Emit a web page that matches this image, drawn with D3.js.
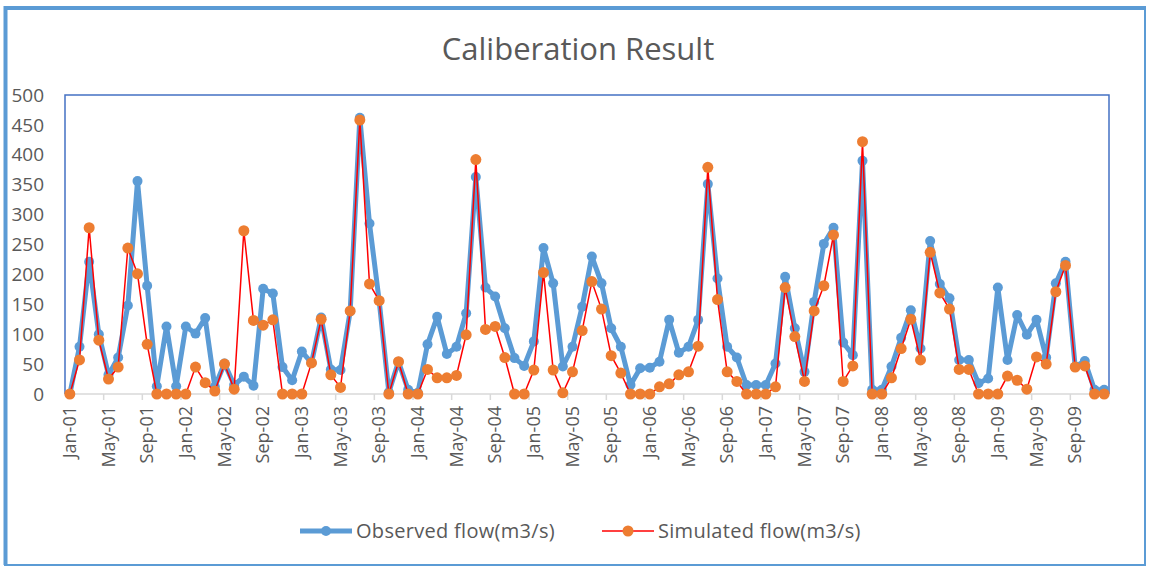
<!DOCTYPE html>
<html>
<head>
<meta charset="utf-8">
<script src="https://cdn.jsdelivr.net/npm/d3@7"></script>
<style>
  body { margin: 0; background: #fff; }
  text { font-family: "Open Sans", "Noto Sans", sans-serif; fill: #595959; }
</style>
</head>
<body>
<div id="chart"></div>
<script>
var width = 1150;
var height = 570;

// monthly values Jan-01 .. Dec-09
var observed = [
  0, 79, 221, 100, 32, 61, 148, 356, 181, 13, 113, 13,
  113, 101, 127, 12, 51, 15, 29, 14, 176, 168, 45, 23,
  71, 52, 128, 41, 40, 138, 462, 285, 156, 3, 54, 7,
  2, 83, 129, 67, 79, 135, 363, 178, 163, 110, 60, 47,
  88, 244, 185, 46, 79, 146, 230, 185, 110, 79, 15, 43,
  44, 54, 124, 69, 79, 124, 351, 193, 79, 61, 15, 15,
  15, 51, 196, 110, 37, 154, 251, 278, 86, 65, 390, 7,
  7, 46, 94, 140, 76, 256, 184, 160, 57, 57, 18, 26,
  178, 57, 132, 99, 124, 61, 185, 221, 46, 55, 7, 7
];
var simulated = [
  0, 57, 278, 90, 25, 45, 244, 201, 83, 0, 0, 0,
  0, 45, 19, 5, 50, 8, 273, 123, 115, 124, 0, 0,
  0, 52, 125, 32, 11, 139, 458, 184, 156, 0, 54, 0,
  0, 41, 27, 27, 31, 99, 392, 108, 113, 61, 0, 0,
  40, 203, 40, 2, 37, 106, 188, 142, 64, 35, 0, 0,
  0, 12, 17, 32, 37, 80, 379, 158, 37, 21, 0, 0,
  0, 12, 178, 96, 21, 139, 181, 266, 21, 47, 422, 0,
  0, 27, 76, 125, 57, 237, 169, 142, 41, 41, 0, 0,
  0, 30, 23, 8, 62, 50, 171, 215, 45, 47, 0, 0
];
var tickLabels = ["Jan-01", "May-01", "Sep-01", "Jan-02", "May-02", "Sep-02", "Jan-03", "May-03", "Sep-03",
  "Jan-04", "May-04", "Sep-04", "Jan-05", "May-05", "Sep-05", "Jan-06", "May-06", "Sep-06",
  "Jan-07", "May-07", "Sep-07", "Jan-08", "May-08", "Sep-08", "Jan-09", "May-09", "Sep-09"];
var yTicks = [0, 50, 100, 150, 200, 250, 300, 350, 400, 450, 500];
var seriesNames = ["Observed flow(m3/s)", "Simulated flow(m3/s)"];

var fmt = d3.utcFormat("%b-%y");
var months = d3.utcMonth.range(new Date(Date.UTC(2001, 0, 1)), new Date(Date.UTC(2010, 0, 1))).map(fmt);

var plot = { left: 65, right: 1109, top: 95, bottom: 394 };

var svg = d3.select('#chart')
    .append('svg')
    .attr('width', width)
    .attr('height', height);

// outer frame
svg.append('rect')
    .attr('x', 5).attr('y', 8)
    .attr('width', 1140).attr('height', 557)
    .attr('fill', 'none')
    .attr('stroke', '#5B9BD5')
    .attr('stroke-width', 2);
svg.append('path')
    .attr('d', 'M5.5,565 V8 H1146')
    .attr('fill', 'none')
    .attr('stroke', '#5B9BD5')
    .attr('stroke-width', 4);

svg.append('text')
    .attr('x', 578)
    .attr('y', 60)
    .attr('text-anchor', 'middle')
    .style('font-size', '31px')
    .text('Caliberation Result');

var x = d3.scaleBand()
    .domain(months)
    .range([plot.left, plot.right])
    .padding(0);

var y = d3.scaleLinear()
    .domain([0, 500])
    .range([plot.bottom, plot.top]);

function cx(d, i) { return x(months[i]) + x.bandwidth() / 2; }

// y labels
svg.append('g')
    .selectAll('text')
    .data(yTicks)
    .enter()
    .append('text')
    .attr('x', 44)
    .attr('y', function (d) { return y(d); })
    .attr('dy', '0.35em')
    .attr('text-anchor', 'end')
    .style('font-size', '19px')
    .text(function (d) { return d; });

// plot border (left, top, right)
svg.append('path')
    .attr('d', 'M' + plot.left + ',' + plot.bottom + ' V' + plot.top + ' H' + plot.right + ' V' + plot.bottom)
    .attr('fill', 'none')
    .attr('stroke', '#4472C4')
    .attr('stroke-width', 1.5);

// x axis line + tick marks
svg.append('line')
    .attr('x1', plot.left).attr('x2', plot.right)
    .attr('y1', plot.bottom).attr('y2', plot.bottom)
    .attr('stroke', '#D9D9D9')
    .attr('stroke-width', 1.5);

svg.append('g')
    .selectAll('line')
    .data(months.filter(function (d, i) { return i % 4 === 0 && i > 0; }))
    .enter()
    .append('line')
    .attr('x1', function (d) { return x(d); })
    .attr('x2', function (d) { return x(d); })
    .attr('y1', plot.bottom)
    .attr('y2', plot.bottom + 6)
    .attr('stroke', '#D9D9D9')
    .attr('stroke-width', 1.5);

svg.append('g')
    .selectAll('text')
    .data(tickLabels)
    .enter()
    .append('text')
    .attr('transform', function (d) {
        return 'translate(' + (x(d) + x.bandwidth() / 2) + ',' + (plot.bottom + 12) + ') rotate(-90)';
    })
    .attr('dy', '0.35em')
    .attr('text-anchor', 'end')
    .style('font-size', '18px')
    .text(function (d) { return d; });

var line = d3.line()
    .x(cx)
    .y(function (d) { return y(d); });

// observed
svg.append('path')
    .datum(observed)
    .attr('d', line)
    .attr('fill', 'none')
    .attr('stroke', '#5B9BD5')
    .attr('stroke-width', 5)
    .attr('stroke-linejoin', 'round');
svg.append('g')
    .selectAll('circle')
    .data(observed)
    .enter()
    .append('circle')
    .attr('cx', cx)
    .attr('cy', function (d) { return y(d); })
    .attr('r', 5)
    .attr('fill', '#5B9BD5');

// simulated
svg.append('path')
    .datum(simulated)
    .attr('d', line)
    .attr('fill', 'none')
    .attr('stroke', '#FF0000')
    .attr('stroke-width', 1.5);
svg.append('g')
    .selectAll('circle')
    .data(simulated)
    .enter()
    .append('circle')
    .attr('cx', cx)
    .attr('cy', function (d) { return y(d); })
    .attr('r', 5.5)
    .attr('fill', '#ED7D31');

// Legend
var legend = svg.selectAll('.legend')
    .data(seriesNames)
    .enter()
    .append('g')
    .attr('class', 'legend')
    .attr('transform', function (d, i) { return 'translate(' + (300 + i * 302) + ',531)'; });

legend.append('line')
    .attr('x1', 0).attr('x2', 52)
    .attr('stroke', function (d, i) { return i ? '#FF0000' : '#5B9BD5'; })
    .attr('stroke-width', function (d, i) { return i ? 1.5 : 5; });

legend.append('circle')
    .attr('cx', 26)
    .attr('r', function (d, i) { return i ? 5.5 : 5; })
    .attr('fill', function (d, i) { return i ? '#ED7D31' : '#5B9BD5'; });

legend.append('text')
    .attr('x', 56)
    .attr('dy', '0.35em')
    .style('font-size', '20px')
    .style('letter-spacing', '0.3px')
    .text(function (d) { return d; });
</script>
</body>
</html>
